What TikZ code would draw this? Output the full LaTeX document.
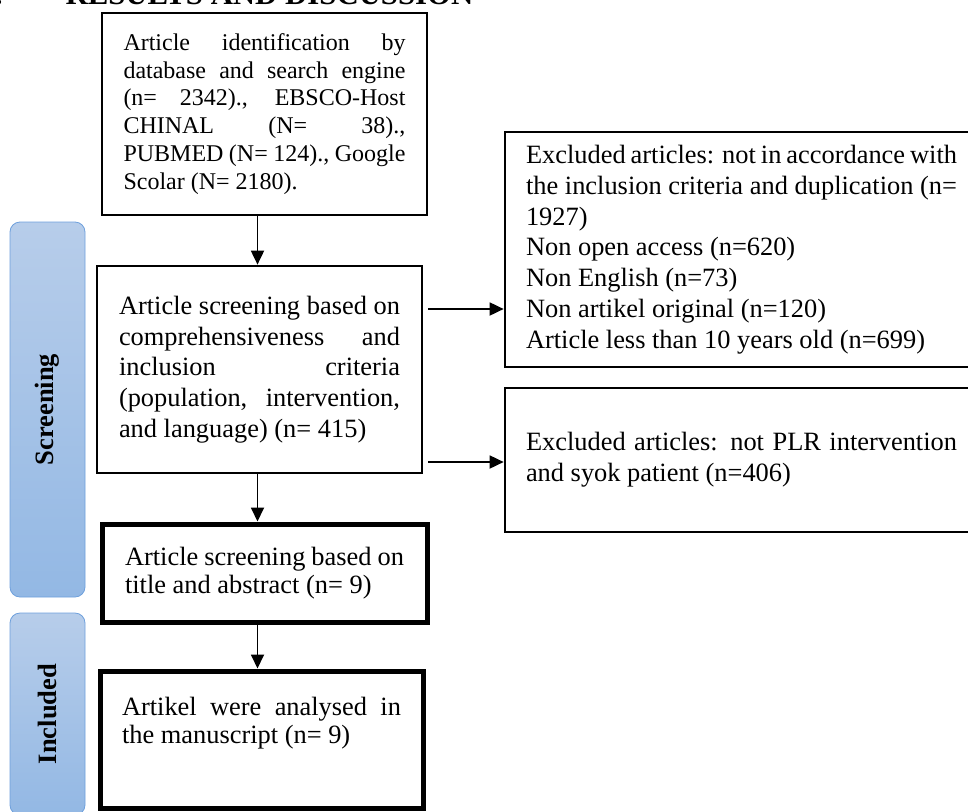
\documentclass[tikz,border=0pt]{standalone}
\usepackage{fontspec}
\setmainfont{Liberation Serif}
\usetikzlibrary{positioning,arrows.meta}
\definecolor{barTop}{RGB}{183,205,234}
\definecolor{barBottom}{RGB}{147,184,228}
\definecolor{barEdge}{RGB}{110,160,220}
\hyphenpenalty=10000
\exhyphenpenalty=10000

\begin{document}
\begin{tikzpicture}[x=1pt, y=-1pt
    , flowbox/.style={draw, line width=2.7pt, align=justify, inner ysep=0pt, font=\fontsize{26.4}{30.8}\selectfont}
    , boldbox/.style={flowbox, line width=5pt, font=\fontsize{26.4}{28.5}\selectfont}
    , phase/.style={draw=barEdge, line width=0.8pt, rounded corners=10pt, top color=barTop, bottom color=barBottom, minimum width=75pt, inner sep=0pt, font=\bfseries\fontsize{26.5}{30}\selectfont}
    , flow/.style={line width=1.8pt, -{Triangle[length=14pt,width=13pt]}}
    ]
    \useasboundingbox (0,0) rectangle (968,811);

    \node[anchor=base east, font=\bfseries\fontsize{30.8}{36}\selectfont] (num) at (6,5) {3.};
    \node[anchor=base west, font=\bfseries\fontsize{30.8}{36}\selectfont] (head) at (62,5) {RESULTS AND DISCUSSION};

    \node[phase, minimum height=375pt] (scrbar) at (47.5,409.5) {\rotatebox{90}{Screening}};
    \node[phase, minimum height=202pt] (incbar) at (47.5,714) {\rotatebox{90}{Included}};

    \node[flowbox, text width=282pt, inner xsep=21.5pt, minimum height=202pt, font=\fontsize{24}{27.8}\selectfont] (ident) at (264.5,114)
      {Article identification by\linebreak database and search engine\linebreak (n= 2342)., EBSCO-Host\linebreak CHINAL (N= 38).,\linebreak PUBMED (N= 124)., Google\linebreak Scolar (N= 2180).};
    \node[flowbox, text width=281pt, inner xsep=22pt, minimum height=207pt] (screen) at (259.5,369.5)
      {Article screening based on\linebreak comprehensiveness and\linebreak inclusion criteria\linebreak (population, intervention,\linebreak and language) (n= 415)};
    \node[boldbox, text width=279pt, inner xsep=23pt, minimum height=98pt] (title) at (264.5,573)
      {Article screening based on\linebreak title and abstract (n= 9)};
    \node[boldbox, text width=279pt, inner xsep=22pt, minimum height=137pt] (analysed) at (261.5,739.5)
      {Artikel were analysed in\linebreak the manuscript (n= 9)\\[10pt]\mbox{}};

    \node[flowbox, text width=431pt, inner xsep=21pt, minimum height=235pt] (excl1) at (741.5,249.5)
      {Excluded articles: not in accordance with\linebreak the inclusion criteria and duplication (n=\linebreak 1927)\\ Non open access (n=620)\\ Non English (n=73)\\ Non artikel original (n=120)\\ Article less than 10 years old (n=699)};
    \node[flowbox, text width=431pt, inner xsep=21pt, minimum height=144pt] (excl2) at (741.5,460)
      {Excluded articles: not PLR intervention\linebreak and syok patient (n=406)};

    \coordinate (spine) at ([xshift=-2pt]screen.north);
    \draw[flow] (spine |- ident.south) -- (spine);
    \draw[flow] (spine |- screen.south) -- (spine |- title.north);
    \draw[flow] (spine |- title.south) -- (spine |- analysed.north);

    \coordinate (outA) at ([xshift=5pt,yshift=60.5pt]screen.east);
    \coordinate (outB) at ([xshift=5pt,yshift=-92.5pt]screen.east);
    \draw[flow] (outA) -- (outA -| excl1.west);
    \draw[flow] (outB) -- (outB -| excl2.west);
  \end{tikzpicture}
\end{document}
